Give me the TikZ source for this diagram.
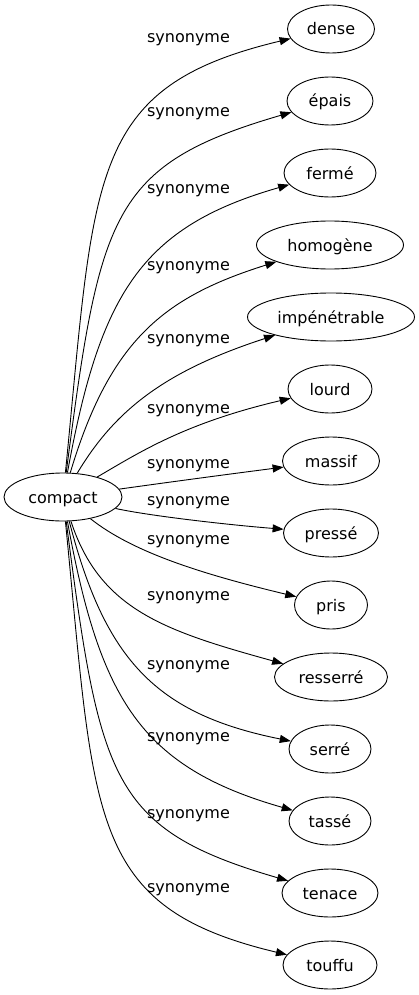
\documentclass[tikz,border=0pt]{standalone}
\usepackage{fontspec}
\setmainfont{DejaVu Sans}
\usetikzlibrary{arrows.meta,shapes.geometric}
\begin{document}
\begin{tikzpicture}[x=1pt,y=-1pt,
  word/.style={draw, ellipse, inner sep=0pt, minimum height=48pt, text height=12pt, text depth=0pt, line width=0.9pt, font=\fontsize{16pt}{19pt}\selectfont},
  rel/.style={inner sep=0pt, text height=9pt, text depth=4pt, font=\fontsize{16pt}{19pt}\selectfont},
  link/.style={line width=0.9pt, -{Triangle[length=11pt,width=8pt]}}]
\useasboundingbox (0,0) rectangle (419,995);
% nodes
\node[word, minimum width=118pt] (c) at (63,497) {compact};
\node[word, minimum width=87pt] (n1) at (331,29) {dense};
\node[word, minimum width=86pt] (n2) at (330,101) {épais};
\node[word, minimum width=92pt] (n3) at (330,173) {fermé};
\node[word, minimum width=147pt] (n4) at (330,245) {homogène};
\node[word, minimum width=167pt] (n5) at (331,317) {impénétrable};
\node[word, minimum width=84pt] (n6) at (330,389) {lourd};
\node[word, minimum width=97pt] (n7) at (331,461) {massif};
\node[word, minimum width=95pt] (n8) at (331,533) {pressé};
\node[word, minimum width=73pt] (n9) at (331,605) {pris};
\node[word, minimum width=113pt] (n10) at (331,677) {resserré};
\node[word, minimum width=82pt] (n11) at (330,749) {serré};
\node[word, minimum width=82pt] (n12) at (330,821) {tassé};
\node[word, minimum width=96pt] (n13) at (330,893) {tenace};
\node[word, minimum width=94pt] (n14) at (330,965) {touffu};
% labels
\node[rel] (l1) at (188.5,40) {synonyme};
\node[rel] (l2) at (188.5,114) {synonyme};
\node[rel] (l3) at (188.5,191) {synonyme};
\node[rel] (l4) at (188.5,268) {synonyme};
\node[rel] (l5) at (188.5,341) {synonyme};
\node[rel] (l6) at (188.5,411) {synonyme};
\node[rel] (l7) at (188.5,466) {synonyme};
\node[rel] (l8) at (188.5,503) {synonyme};
\node[rel] (l9) at (188.5,542) {synonyme};
\node[rel] (l10) at (188.5,598) {synonyme};
\node[rel] (l11) at (188.5,667) {synonyme};
\node[rel] (l12) at (188.5,739) {synonyme};
\node[rel] (l13) at (188.5,816) {synonyme};
\node[rel] (l14) at (188.5,890) {synonyme};
% edges
\draw[link] (c) .. controls (95,174) and (87,87) .. (n1);
\draw[link] (c) .. controls (100,214) and (110,165) .. (n2);
\draw[link] (c) .. controls (100,294) and (141,227) .. (n3);
\draw[link] (c) .. controls (110,340) and (164,297) .. (n4);
\draw[link] (c) .. controls (115,410) and (165,371) .. (n5);
\draw[link] (c) .. controls (140,452) and (185,423) .. (n6);
\draw[link] (c) .. controls (170,482) and (230,474) .. (n7);
\draw[link] (c) .. controls (150,516) and (230,525) .. (n8);
\draw[link] (c) .. controls (130,550) and (193,572) .. (n9);
\draw[link] (c) .. controls (100,610) and (165,631) .. (n10);
\draw[link] (c) .. controls (105,660) and (156,714) .. (n11);
\draw[link] (c) .. controls (100,700) and (141,767) .. (n12);
\draw[link] (c) .. controls (100,780) and (110,829) .. (n13);
\draw[link] (c) .. controls (95,820) and (87,907) .. (n14);
\end{tikzpicture}
\end{document}
